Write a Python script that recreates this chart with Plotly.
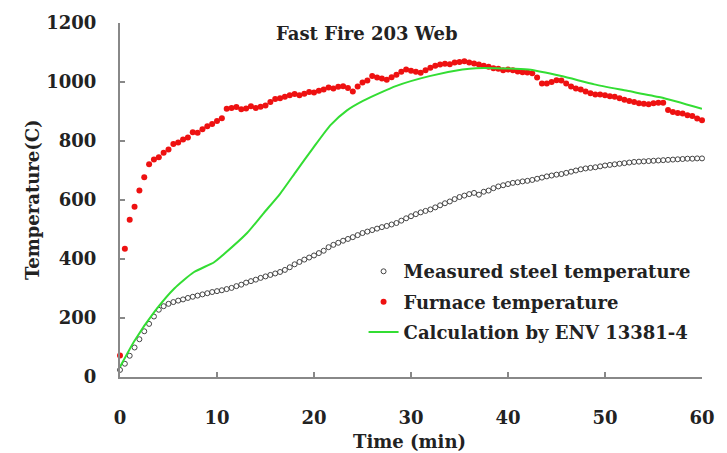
import plotly.graph_objects as go

# ---- data ----
furnace_time = [i * 0.5 for i in range(121)]
furnace_temp = [
    73, 435, 533, 577, 632, 677, 721, 737, 745, 760,
    771, 790, 795, 805, 812, 830, 828, 840, 850, 858,
    868, 877, 909, 912, 915, 908, 910, 918, 912, 916,
    920, 932, 942, 945, 950, 955, 959, 955, 960, 966,
    964, 970, 975, 981, 978, 984, 986, 980, 968, 985,
    998, 1005, 1020, 1015, 1012, 1008, 1016, 1025, 1035, 1042,
    1038, 1035, 1031, 1040, 1048, 1055, 1059, 1062, 1060, 1066,
    1068, 1070, 1066, 1063, 1059, 1055, 1052, 1047, 1045, 1040,
    1042, 1040, 1036, 1033, 1032, 1030, 1015, 995, 995, 1000,
    1006, 1005, 995, 985, 978, 975, 968, 962, 958, 958,
    955, 952, 950, 945, 940, 936, 932, 928, 926, 925,
    928, 930, 930, 905, 898, 895, 893, 887, 885, 876,
    870,
]

steel_time = [i * 0.5 for i in range(121)]
steel_temp = [
    24, 45, 72, 100, 128, 155, 180, 205, 228, 240,
    248, 254, 259, 263, 268, 272, 276, 280, 284, 288,
    291, 294, 298, 302, 308, 313, 320, 325, 330, 336,
    341, 346, 351, 356, 363, 372, 382, 390, 398, 405,
    412, 420, 428, 440, 448, 455, 462, 468, 474, 481,
    488, 493, 498, 503, 508, 512, 517, 522, 530, 538,
    545, 552, 558, 563, 568, 575, 582, 589, 595, 603,
    610, 615, 620, 624, 618, 628, 632, 640, 646, 650,
    654, 658, 660, 663, 665, 668, 672, 676, 680, 683,
    686, 688, 692, 696, 700, 704, 707, 709, 711, 714,
    717, 719, 721, 723, 725, 727, 729, 730, 731, 732,
    733, 734, 735, 736, 737, 738, 739, 740, 740, 741,
    741,
]

calc_time = [0, 1.5, 3.6, 5.6, 7.6, 9.7, 10.7, 13.1, 14.8, 16.5, 18.2, 19.9, 21.7,
             23.4, 25.1, 28.5, 31.9, 35.3, 36.7, 38.7, 42.1, 45.5, 48.9, 52.3, 55.7, 60]
calc_temp = [34, 123, 223, 300, 355, 389, 416, 488, 555, 621, 699, 776, 854,
             904, 937, 987, 1020, 1042, 1047, 1047, 1042, 1020, 992, 970, 948, 909]

x_ticks = [0, 10, 20, 30, 40, 50, 60]
y_ticks = [0, 200, 400, 600, 800, 1000, 1200]

FONT = "DejaVu Serif"
TXT = "#222222"
FS = 18

fig = go.Figure()
fig.add_trace(go.Scatter(
    x=steel_time, y=steel_temp, mode="markers", name="Measured steel temperature",
    legendgroup="a", cliponaxis=False,
    marker=dict(symbol="circle-open", size=5, color="#444444", line=dict(width=1)),
))
fig.add_trace(go.Scatter(
    x=furnace_time, y=furnace_temp, mode="markers", name="Furnace temperature",
    legendgroup="b", cliponaxis=False,
    marker=dict(symbol="circle", size=6, color="#ee1111"),
))
fig.add_trace(go.Scatter(
    x=calc_time, y=calc_temp, mode="lines", name="Calculation by ENV 13381-4",
    legendgroup="c", cliponaxis=False,
    line=dict(color="#33dd33", width=2, shape="spline", smoothing=0.6),
))

axis_common = dict(
    showgrid=False, zeroline=False, showline=True, linecolor="#888888", linewidth=2,
    ticks="inside", ticklen=5, tickwidth=1.5, tickcolor="#888888",
    tickfont=dict(family=FONT, size=FS, color=TXT, weight="bold"),
)

fig.update_layout(
    width=727, height=453,
    margin=dict(l=120, r=18, t=16, b=76),
    paper_bgcolor="white", plot_bgcolor="white",
    showlegend=True,
    legend=dict(
        x=0.4185, y=0.35, xanchor="left", yanchor="top",
        bgcolor="rgba(0,0,0,0)", tracegroupgap=4,
        font=dict(family=FONT, size=FS, color=TXT, weight="bold"),
    ),
    xaxis=dict(range=[0, 60], tickvals=x_ticks, ticklabelstandoff=23, **axis_common),
    yaxis=dict(range=[0, 1200], tickvals=y_ticks, ticklabelstandoff=18, **axis_common),
    annotations=[
        dict(text="Fast Fire 203 Web", xref="paper", yref="paper", x=0.424, y=0.9695,
             xanchor="center", yanchor="middle", showarrow=False,
             font=dict(family=FONT, size=FS, color=TXT, weight="bold")),
        dict(text="Time (min)", xref="paper", yref="paper", x=0.497, y=-0.183,
             xanchor="center", yanchor="middle", showarrow=False,
             font=dict(family=FONT, size=FS, color=TXT, weight="bold")),
        dict(text="Temperature(C)", xref="paper", yref="paper", x=-0.151, y=0.5,
             xanchor="center", yanchor="middle", showarrow=False, textangle=-90,
             font=dict(family=FONT, size=FS, color=TXT, weight="bold")),
    ],
)

fig.write_html("out.html")
